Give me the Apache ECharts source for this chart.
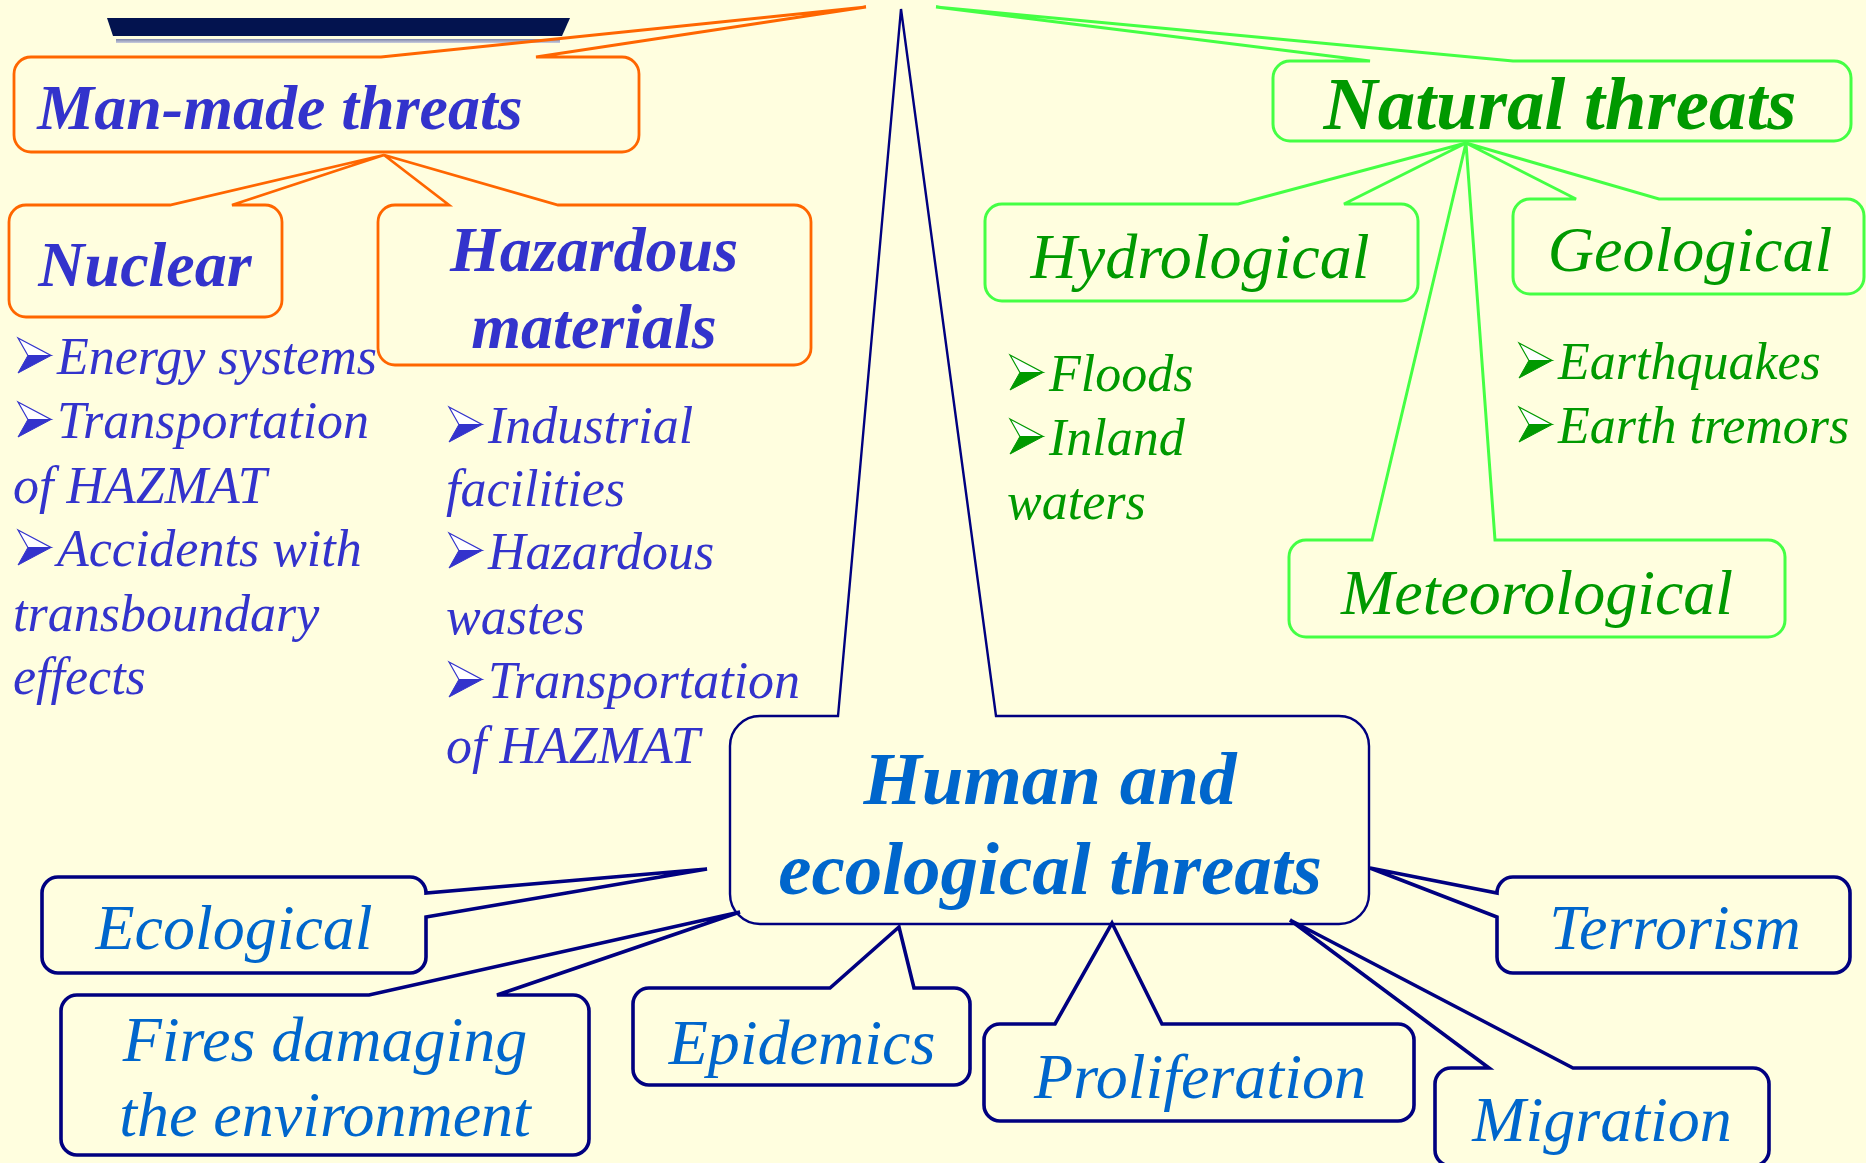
<!DOCTYPE html>
<html><head><meta charset="utf-8">
<script src="https://cdn.jsdelivr.net/npm/echarts@6.0.0/dist/echarts.min.js"></script>
<style>html,body{margin:0;padding:0;background:#FFFEDF}#c{width:1866px;height:1163px}</style>
</head><body><div id="c"></div>
<script>
// ---- Boxes (diagram nodes) ----
const boxLabels = ['Man-made threats','Nuclear','Hazardous\nmaterials','Natural threats','Hydrological','Geological','Meteorological','Human and\necological threats','Ecological','Fires damaging\nthe environment','Epidemics','Proliferation','Migration','Terrorism'];
const boxGroup  = ['man','man','man','nat','nat','nat','nat','hum','hum','hum','hum','hum','hum','hum'];
const boxLevel  = [1,2,2,1,2,2,2,1,2,2,2,2,2,2];
const boxLeft   = [14, 9, 378, 1273, 985, 1513, 1289, 730, 42, 61, 633, 984, 1435, 1497];
const boxTop    = [57, 205, 205, 61, 204, 199, 540, 716, 877, 995, 988, 1024, 1068, 877];
const boxRight  = [639, 282, 811, 1851, 1418, 1864, 1785, 1369, 426, 589, 970, 1414, 1769, 1850];
const boxBottom = [152, 317, 365, 141, 301, 294, 637, 924, 973, 1155, 1085, 1121, 1166, 973];
const labelX    = [280, 145, 594, 1560, 1200, 1690, 1537, 1050, 234, 325, 802, 1200, 1602, 1675];
const labelBase = [128, 285, 270, 128, 277, 270, 613, 803, 948, 1060, 1063, 1097, 1140, 948];
const labelStep = [0, 0, 77, 0, 0, 0, 0, 90, 0, 75, 0, 0, 0, 0];
// ---- Callout pointers ----
const calloutSide  = ['top','top','top','top','top','top','top','top','right','top','top','top','top','left'];
const calloutTipX  = [866, 384, 384, 936, 1466, 1466, 1466, 901, 707, 740, 899, 1112, 1290, 1370];
const calloutTipY  = [7, 155, 155, 7, 143, 143, 143, 9, 869, 912, 927, 923, 920, 868];
const calloutBaseA = [381, 170, 449, 1370, 1238, 1576, 1372, 838, 893, 369, 830, 1055, 1489, 893];
const calloutBaseB = [536, 232, 558, 1513, 1344, 1659, 1495, 996, 917, 497, 914, 1162, 1573, 917];
// ---- Bullet lists ----
const listText   = ['Energy systems','Transportation','of HAZMAT','Accidents with','transboundary','effects','Industrial','facilities','Hazardous','wastes','Transportation','of HAZMAT','Floods','Inland','waters','Earthquakes','Earth tremors'];
const listBullet = [1,1,0,1,0,0, 1,0,1,0,1,0, 1,1,0, 1,1];
const listX      = [57,57,13,57,13,13, 488,446,488,446,488,446, 1049,1049,1007, 1558,1558];
const listBase   = [373,437,502,565,630,693, 442,505,568,633,697,762, 390,454,518, 378,442];
const listGroup  = ['man','man','man','man','man','man','man','man','man','man','man','man','nat','nat','nat','nat','nat'];
// ---- Title banner decoration ----
const bannerX = [107, 570];
const bannerY = [18, 36];

const BG = '#FFFEDF';
const BASE_SHIFT = 0.245; // baseline -> text middle, in font-size units
const groupStyle = {
  man: {stroke:'#FF6600', text:'#3333CC'},
  nat: {stroke:'#44FF44', text:'#009900'},
  hum: {stroke:'#000080', text:'#0066CC'}
};
const SERIF = '"Liberation Serif","Times New Roman",serif';
function boxFont(g, lvl){
  if (g === 'man') return {font:'italic bold 64px ' + SERIF, size:64};
  if (lvl === 1) return {font:'italic bold 75px ' + SERIF, size:75};
  return {font:'italic 64px ' + SERIF, size:64};
}
function boxLine(g, lvl){
  if (g === 'man') return 2.8;
  if (g === 'nat') return 3;
  return lvl === 1 ? 2.4 : 3.6;
}
function boxRadius(g, lvl){
  if (g === 'hum') return lvl === 1 ? 30 : 16;
  return 17;
}

const boxData = boxLabels.map((_, i) => [boxLeft[i], boxTop[i], boxRight[i], boxBottom[i], calloutTipX[i], calloutTipY[i], calloutBaseA[i], calloutBaseB[i], labelX[i], labelBase[i]]);
const listData = listText.map((_, i) => [listX[i], listBase[i]]);

function renderBox(params, api){
  const i = params.dataIndex;
  const g = boxGroup[i], lvl = boxLevel[i];
  const lt = api.coord([api.value(0), api.value(1)]);
  const rb = api.coord([api.value(2), api.value(3)]);
  const tip = api.coord([api.value(4), api.value(5)]);
  const L = lt[0], T = lt[1], R = rb[0], B = rb[1];
  const side = calloutSide[i];
  let a, b;
  if (side === 'top' || side === 'bottom') {
    a = api.coord([api.value(6), 0])[0]; b = api.coord([api.value(7), 0])[0];
  } else {
    a = api.coord([0, api.value(6)])[1]; b = api.coord([0, api.value(7)])[1];
  }
  const r = boxRadius(g, lvl), k = r * 0.448;
  const tp = tip[0] + ',' + tip[1];
  let d = 'M' + (L + r) + ',' + T;
  if (side === 'top') d += ' L' + a + ',' + T + ' L' + tp + ' L' + b + ',' + T;
  d += ' L' + (R - r) + ',' + T + ' C' + (R - k) + ',' + T + ' ' + R + ',' + (T + k) + ' ' + R + ',' + (T + r);
  if (side === 'right') d += ' L' + R + ',' + a + ' L' + tp + ' L' + R + ',' + b;
  d += ' L' + R + ',' + (B - r) + ' C' + R + ',' + (B - k) + ' ' + (R - k) + ',' + B + ' ' + (R - r) + ',' + B;
  if (side === 'bottom') d += ' L' + b + ',' + B + ' L' + tp + ' L' + a + ',' + B;
  d += ' L' + (L + r) + ',' + B + ' C' + (L + k) + ',' + B + ' ' + L + ',' + (B - k) + ' ' + L + ',' + (B - r);
  if (side === 'left') d += ' L' + L + ',' + b + ' L' + tp + ' L' + L + ',' + a;
  d += ' L' + L + ',' + (T + r) + ' C' + L + ',' + (T + k) + ' ' + (L + k) + ',' + T + ' ' + (L + r) + ',' + T + ' Z';
  const st = groupStyle[g];
  const children = [{
    type: 'path', shape: {pathData: d},
    style: {fill: 'none', stroke: st.stroke, lineWidth: boxLine(g, lvl), lineJoin: 'miter', miterLimit: 4}
  }];
  const f = boxFont(g, lvl);
  const lines = boxLabels[i].split('\n');
  lines.forEach((ln, j) => {
    const pt = api.coord([api.value(8), api.value(9) + j * labelStep[i]]);
    children.push({
      type: 'text', x: pt[0], y: pt[1] - BASE_SHIFT * f.size,
      style: {text: ln, font: f.font, fill: st.text, textAlign: 'center', textVerticalAlign: 'middle'}
    });
  });
  return {type: 'group', children};
}

function renderList(params, api){
  const i = params.dataIndex;
  const st = groupStyle[listGroup[i]];
  const pt = api.coord([api.value(0), api.value(1)]);
  const size = 52;
  const children = [{
    type: 'text', x: pt[0], y: pt[1] - BASE_SHIFT * size,
    style: {text: listText[i], font: 'italic ' + size + 'px ' + SERIF, fill: st.text, textAlign: 'left', textVerticalAlign: 'middle'}
  }];
  if (listBullet[i]) {
    const x0 = pt[0] - 39, yb = pt[1];
    const w = 33, h = 35, ym = yb - h / 2;
    children.push({type: 'polygon', shape: {points: [[x0, yb - h], [x0 + w, ym], [x0 + w * 0.3, ym]]},
      style: {fill: '#FFFFFF', stroke: st.text, lineWidth: 1.2}});
    children.push({type: 'polygon', shape: {points: [[x0 + w * 0.3, ym], [x0 + w, ym], [x0, yb]]},
      style: {fill: st.text, stroke: st.text, lineWidth: 1}});
  }
  return {type: 'group', children};
}

function renderBanner(params, api){
  const p1 = api.coord([api.value(0), api.value(2)]);
  const p2 = api.coord([api.value(1), api.value(3)]);
  return {type: 'group', children: [
    {type: 'polygon', shape: {points: [[p1[0], p1[1]], [p2[0], p1[1]], [p2[0] - 8, p2[1]], [p1[0] + 6, p2[1]]]},
      style: {fill: '#03134F'}},
    {type: 'rect', shape: {x: p1[0] + 9, y: p2[1] + 3, width: p2[0] - p1[0] - 19, height: 4},
      style: {fill: new echarts.graphic.LinearGradient(0, 0, 0, 1, [{offset: 0, color: '#7F86AA'}, {offset: 1, color: '#C8CCDD'}])}}
  ]};
}

const chart = echarts.init(document.getElementById('c'), null, {renderer: 'canvas'});
chart.setOption({
  backgroundColor: BG,
  animation: false,
  grid: {left: 0, right: 0, top: 0, bottom: 0},
  xAxis: {type: 'value', min: 0, max: 1866, show: false},
  yAxis: {type: 'value', min: 0, max: 1163, inverse: true, show: false},
  series: [
    {type: 'custom', silent: true, clip: false, renderItem: renderBanner, data: [[bannerX[0], bannerX[1], bannerY[0], bannerY[1]]]},
    {type: 'custom', silent: true, clip: false, renderItem: renderBox, data: boxData},
    {type: 'custom', silent: true, clip: false, renderItem: renderList, data: listData}
  ]
});
</script></body></html>
